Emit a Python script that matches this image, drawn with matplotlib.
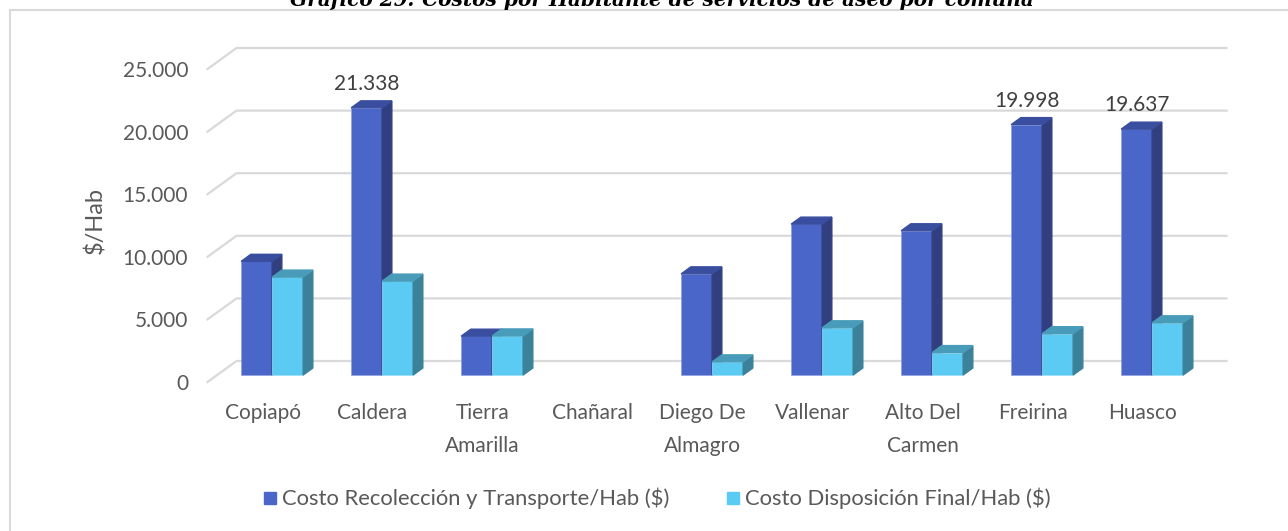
import matplotlib.pyplot as plt
from matplotlib.patches import Polygon, Rectangle

comunas = ['Copiapó', 'Caldera', 'Tierra\nAmarilla', 'Chañaral', 'Diego De\nAlmagro',
           'Vallenar', 'Alto Del\nCarmen', 'Freirina', 'Huasco']
recoleccion = [9080, 21338, 3100, 0, 8080, 12050, 11520, 19998, 19637]
disposicion = [7820, 7500, 3120, 0, 1050, 3770, 1790, 3300, 4170]
labeled = {1, 7, 8}
series_names = ['Costo Recolección y Transporte/Hab ($)', 'Costo Disposición Final/Hab ($)']
yticks = [0, 5000, 10000, 15000, 20000, 25000]

plt.rcParams['font.family'] = ['Lato', 'DejaVu Sans']
grey = '#595959'

W, H = 1288, 531
fig = plt.figure(figsize=(W / 100, H / 100), dpi=100)

# pixel geometry of the pseudo-3d plot
px_unit = 110.0            # pixels per category
px_k = 12.52 / 1000        # pixels per value unit
x_left, y_zero = 207.5, 382.0
floor_dx, floor_dy = 29 / px_unit, 21 / px_k   # depth of the floor in data units
ymax = 25000 + floor_dy
xmax = len(comunas) - 0.5 + floor_dx
ax_w = (xmax + 0.5) * px_unit
ax_h = ymax * px_k
ax = fig.add_axes([x_left / W, (H - y_zero) / H, ax_w / W, ax_h / H])
ax.set_xlim(-0.5, xmax)
ax.set_ylim(0, ymax)
for s in ax.spines.values():
    s.set_visible(False)

# gridlines: front diagonal + back wall horizontal
for v in yticks:
    ax.plot([-0.5, -0.5 + floor_dx, xmax], [v, v + floor_dy, v + floor_dy],
            color='#d9d9d9', lw=1.6, clip_on=False, zorder=1)

ax.set_yticks(yticks, [f'{v:,}'.replace(',', '.') for v in yticks])
ax.set_xticks(range(len(comunas)), comunas)
ax.tick_params(axis='y', length=0, pad=14, labelsize=15, labelcolor=grey)
ax.tick_params(axis='x', length=0, pad=15, labelsize=15, labelcolor=grey)
for t in ax.get_xticklabels():
    t.set_linespacing(1.8)
    t.set_verticalalignment('top')

bw = 31 / px_unit
bdx, bdy = floor_dx / 3, floor_dy / 3
styles = [('#4a66c8', '#313f80', '#3a4ea0'), ('#5bcbf3', '#3a8199', '#489cb9')]
for s, vals in enumerate([recoleccion, disposicion]):
    front, side, top = styles[s]
    for i, v in enumerate(vals):
        if v <= 0:
            continue
        x0 = i + bdx - bw + s * bw
        x1 = x0 + bw
        b = bdy
        ax.bar(x0, v, width=bw, bottom=b, align='edge', color=front,
               edgecolor='#8fa0e0' if s == 0 else '#9be0f7', lw=0.5, zorder=3)
        ax.add_patch(Polygon([(x1, b), (x1 + bdx, b + bdy), (x1 + bdx, b + bdy + v), (x1, b + v)],
                             closed=True, color=side, zorder=3))
        ax.add_patch(Polygon([(x0, b + v), (x0 + bdx, b + v + bdy), (x1 + bdx, b + v + bdy), (x1, b + v)],
                             closed=True, color=top, zorder=3))
        if s == 0 and i in labeled:
            ax.annotate(f'{v:,}'.replace(',', '.'), (x0 + bw / 2, b + v + bdy),
                        xytext=(0, 5), textcoords='offset points', ha='center', va='bottom',
                        fontsize=15, color='#404040', zorder=4)

fig.text(95 / W, 1 - 220 / H, '$/Hab', rotation=90, ha='center', va='center',
         fontsize=17, color=grey)

# legend
for (sx, tx), name, st in zip([(264, 282), (727, 745)], series_names, styles):
    fig.patches.append(Rectangle((sx / W, 1 - 504 / H), 12 / W, 12 / H,
                                 transform=fig.transFigure, color=st[0]))
    fig.text(tx / W, 1 - 498 / H, name, ha='left', va='center', fontsize=15.8, color=grey)

# chart frame and clipped caption above it
fig.patches.append(Rectangle((10 / W, -0.05), 1.1, 1 - 10 / H + 0.05, transform=fig.transFigure,
                             fill=False, edgecolor='#d9d9d9', lw=1.5))
fig.text(662 / W, 1 - 6 / H, 'Gráfico 29: Costos por Habitante de servicios de aseo por comuna',
         ha='center', va='baseline', fontsize=14.5, weight='bold', style='italic',
         family='DejaVu Serif', color='black')

fig.savefig('out.png', dpi=100)
